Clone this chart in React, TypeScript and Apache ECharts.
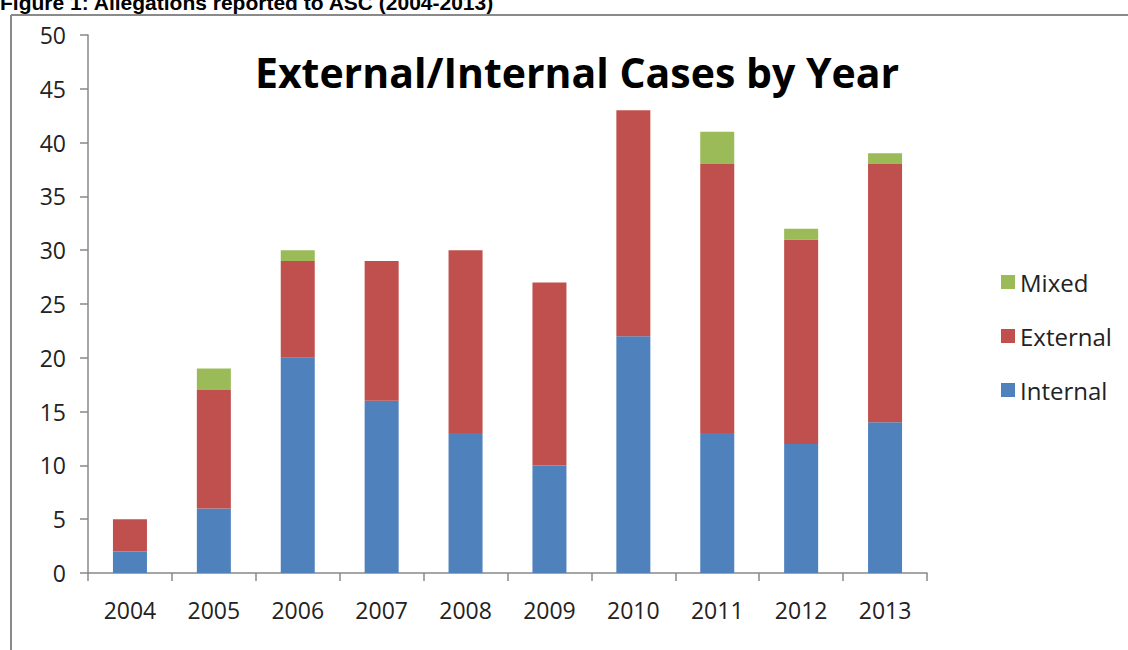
import React, { useEffect, useRef } from "react";
import * as echarts from "echarts";

const years = ["2004", "2005", "2006", "2007", "2008", "2009", "2010", "2011", "2012", "2013"];
const internal = [2, 6, 20, 16, 13, 10, 22, 13, 12, 14];
const external = [3, 11, 9, 13, 17, 17, 21, 25, 19, 24];
const mixed = [0, 2, 1, 0, 0, 0, 0, 3, 1, 1];

const chartTitle = "External/Internal Cases by Year";
const caption = "Figure 1: Allegations reported to ASC (2004-2013)";

export default function App() {
  const ref = useRef<HTMLDivElement>(null);
  useEffect(() => {
    if (!ref.current) return;
    const chart = echarts.init(ref.current, null, { renderer: "svg" });
    const font = "'Open Sans', 'DejaVu Sans', sans-serif";
    chart.setOption({
      animation: false,
      backgroundColor: "#ffffff",
      title: {
        text: chartTitle,
        left: 572,
        top: 46,
        textAlign: "center",
        textStyle: { fontFamily: font, fontSize: 41, fontWeight: "bold", color: "#000" },
      },
      legend: {
        orient: "vertical",
        left: 996,
        top: 265,
        itemGap: 30,
        itemWidth: 14,
        itemHeight: 14,
        icon: "rect",
        data: ["Mixed", "External", "Internal"],
        textStyle: { fontFamily: font, fontSize: 24, color: "#222" },
      },
      grid: { left: 88, right: 201, top: 35, bottom: 77, containLabel: false },
      xAxis: {
        type: "category",
        data: years,
        axisLine: { lineStyle: { color: "#888", width: 1.5 } },
        axisTick: { show: true, alignWithLabel: false, length: 8, lineStyle: { color: "#888", width: 1.5 } },
        axisLabel: { fontFamily: font, fontSize: 23, color: "#222", margin: 25 },
      },
      yAxis: {
        type: "value",
        min: 0,
        max: 50,
        interval: 5,
        axisLine: { show: true, lineStyle: { color: "#888", width: 1.5 } },
        axisTick: { show: true, length: 8, lineStyle: { color: "#888", width: 1.5 } },
        splitLine: { show: false },
        axisLabel: { fontFamily: font, fontSize: 23, color: "#222", margin: 22 },
      },
      series: [
        { name: "Internal", type: "bar", stack: "a", barWidth: 34, data: internal, itemStyle: { color: "#4F81BD" } },
        { name: "External", type: "bar", stack: "a", barWidth: 34, data: external, itemStyle: { color: "#C0504D" } },
        { name: "Mixed", type: "bar", stack: "a", barWidth: 34, data: mixed, itemStyle: { color: "#9BBB59" } },
      ],
      graphic: [
        {
          type: "text",
          left: 0,
          top: -8,
          style: { text: caption, font: "bold 21px 'Liberation Sans', Arial, sans-serif", fill: "#000" },
        },
        { type: "line", shape: { x1: 11, y1: 15, x2: 1128, y2: 15 }, style: { stroke: "#8a8a8a", lineWidth: 2 } },
        { type: "line", shape: { x1: 11, y1: 15, x2: 11, y2: 650 }, style: { stroke: "#8a8a8a", lineWidth: 2 } },
      ],
    });
    return () => chart.dispose();
  }, []);
  return <div ref={ref} style={{ position: "absolute", left: 0, top: 0, width: 1128, height: 650 }} />;
}
